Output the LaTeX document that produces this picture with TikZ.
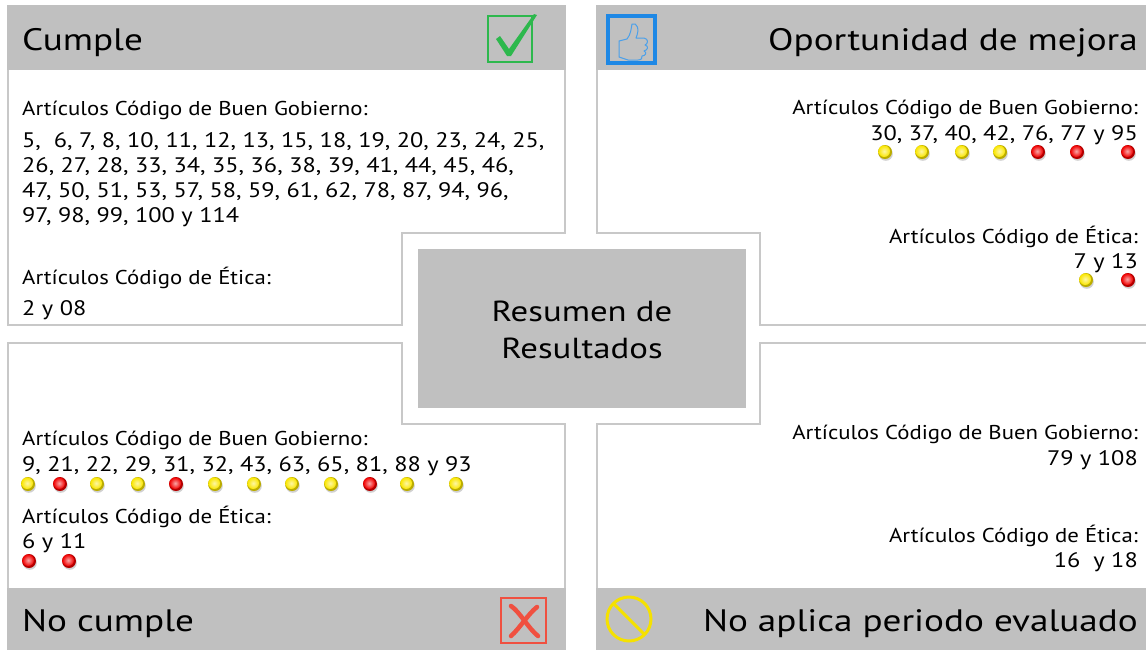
\documentclass[tikz,border=0pt]{standalone}
\usepackage{fontspec}
\setmainfont{PT Sans}
\newfontfamily\labelfamily[FakeStretch=1.14]{PT Sans}
\newfontfamily\numfamily[FakeStretch=1.16]{PT Sans}
\newfontfamily\headfamily[FakeStretch=1.2]{PT Sans}
\usepackage{tikz}

\definecolor{headgray}{RGB}{192,192,192}
\definecolor{linegray}{RGB}{200,200,200}
\definecolor{okgreen}{RGB}{45,184,77}
\definecolor{thumbblue}{RGB}{30,136,229}
\definecolor{nored}{RGB}{240,80,64}
\definecolor{nayellow}{RGB}{245,225,0}
\definecolor{dotyellow}{RGB}{250,230,0}
\definecolor{dotred}{RGB}{240,0,0}

\newcommand{\headfont}{\headfamily\fontsize{31}{36}\selectfont}
\newcommand{\bodyfont}{\labelfamily\fontsize{20}{25}\selectfont}
\newcommand{\numfont}{\numfamily\fontsize{21}{25}\selectfont}
\newcommand{\artdot}[3]{%
	\fill[black!18] (#1+0.8,#2+1.8) circle (7);
	\fill[#3!75!black] (#1,#2) circle (7);
	\shade[inner color=#3!35!white,outer color=#3] (#1-0.8,#2-0.8) circle (5.8);}

\begin{document}
\begin{tikzpicture}[x=1pt,y=-1pt,
	panel/.style={fill=white,draw=linegray,line width=2pt},
	head/.style={fill=headgray},
	lbl/.style={inner sep=0pt,font=\bodyfont,text=black},
	lbll/.style={lbl,anchor=base west},
	lblr/.style={lbl,anchor=base east},
	nums/.style={font=\numfont},
	htxt/.style={inner sep=0pt,font=\headfont,text=black}]
	\useasboundingbox (0,0) rectangle (1146,649);
	% the four panels
	\draw[panel] (8,6) -- (565,6) -- (565,233) -- (402,233) -- (402,325) -- (8,325) -- cycle;
	\draw[panel] (1150,6) -- (597,6) -- (597,233) -- (760,233) -- (760,325) -- (1150,325);
	\draw[panel] (8,652) -- (8,343) -- (402,343) -- (402,424) -- (565,424) -- (565,652);
	\draw[panel] (1150,343) -- (760,343) -- (760,424) -- (597,424) -- (597,652);
	\fill[head] (7,5) rectangle (566,70);
	\fill[head] (596,5) rectangle (1150,70);
	\fill[head] (7,588) rectangle (566,652);
	\fill[head] (596,588) rectangle (1150,652);
	% centre box
	\fill[head] (418,249) rectangle (746,408);
	\node[htxt,font=\headfamily\fontsize{29}{37}\selectfont,align=center] (resumen) at (582,330) {Resumen de\\Resultados};

	% headers
	\node[htxt,anchor=base west] (cumple) at (22,50) {Cumple};
	\node[htxt,anchor=base east] (mejora) at (1138,50) {Oportunidad de mejora};
	\node[htxt,anchor=base west] (nocumple) at (22,631) {No cumple};
	\node[htxt,anchor=base east] (noaplica) at (1138,631) {No aplica periodo evaluado};

	% icons
	\draw[okgreen,line width=2.5pt] (488,16) rectangle (532,62);
	\fill[okgreen] (496,39) -- (500,36) -- (509,49) -- (534,14) -- (537,15) -- (511,56) -- (507,56) -- cycle;
	\draw[thumbblue,line width=4pt] (608,16) rectangle (655,63);
	\draw[thumbblue!80,line width=1pt,line join=round] (619,41) -- (627,39)
		.. controls (631,34) and (631,29) .. (632,24)
		.. controls (637,22) and (640,29) .. (636,38) -- (644,38)
		.. controls (649,39) and (648,44) .. (645,45)
		.. controls (649,46) and (648,50) .. (644,51)
		.. controls (647,52) and (646,56) .. (642,56)
		.. controls (643,58) and (641,60) .. (638,60) -- (628,60)
		-- (619,57) -- cycle;
	\draw[nored,line width=2pt] (501,598) rectangle (546,643);
	\draw[nored,line width=4.5pt,line cap=round] (511,606) .. controls (520,612) and (528,628) .. (538,636);
	\draw[nored,line width=4.5pt,line cap=round] (537,607) .. controls (528,614) and (520,628) .. (511,636);
	\draw[nayellow,line width=3pt] (629,619) circle (22);
	\draw[nayellow,line width=3pt] (613,603) -- (645,635);

	% Cumple
	\node[lbll] (cbg) at (22,115) {Artículos Código de Buen Gobierno:};
	\node[lbll,nums] (cbg1) at (22,147) {5,\ \ 6, 7, 8, 10, 11, 12, 13, 15, 18, 19, 20, 23, 24, 25,};
	\node[lbll,nums] (cbg2) at (22,172) {26, 27, 28, 33, 34, 35, 36, 38, 39, 41, 44, 45, 46,};
	\node[lbll,nums] (cbg3) at (22,197) {47, 50, 51, 53, 57, 58, 59, 61, 62, 78, 87, 94, 96,};
	\node[lbll,nums] (cbg4) at (22,222) {97, 98, 99, 100 y 114};
	\node[lbll] (cet) at (22,284) {Artículos Código de Ética:};
	\node[lbll,nums] (cet1) at (22,315) {2 y 08};

	% Oportunidad de mejora
	\node[lblr] (obg) at (1138,114) {Artículos Código de Buen Gobierno:};
	\node[lblr,nums] (obg1) at (1138,140) {30, 37, 40, 42, 76, 77 y 95};
	\foreach \x/\c in {885/dotyellow,922/dotyellow,962/dotyellow,1000/dotyellow,1038/dotred,1077/dotred,1128/dotred}
		{\artdot{\x}{152}{\c}}
	\node[lblr] (oet) at (1138,243) {Artículos Código de Ética:};
	\node[lblr,nums] (oet1) at (1138,268) {7 y 13};
	\foreach \x/\c in {1086/dotyellow,1128/dotred}
		{\artdot{\x}{280}{\c}}

	% No cumple
	\node[lbll] (nbg) at (22,445) {Artículos Código de Buen Gobierno:};
	\node[lbll,nums] (nbg1) at (22,471) {9, 21, 22, 29, 31, 32, 43, 63, 65, 81, 88 y 93};
	\foreach \x/\c in {28/dotyellow,60/dotred,97/dotyellow,138/dotyellow,176/dotred,215/dotyellow,254/dotyellow,292/dotyellow,331/dotyellow,370/dotred,407/dotyellow,456/dotyellow}
		{\artdot{\x}{484}{\c}}
	\node[lbll] (net) at (22,523) {Artículos Código de Ética:};
	\node[lbll,nums] (net1) at (22,548) {6 y 11};
	\foreach \x/\c in {29/dotred,69/dotred}
		{\artdot{\x}{561}{\c}}

	% No aplica
	\node[lblr] (abg) at (1138,439) {Artículos Código de Buen Gobierno:};
	\node[lblr,nums] (abg1) at (1138,465) {79 y 108};
	\node[lblr] (aet) at (1138,542) {Artículos Código de Ética:};
	\node[lblr,nums] (aet1) at (1138,567) {16\ \ y 18};
\end{tikzpicture}
\end{document}
